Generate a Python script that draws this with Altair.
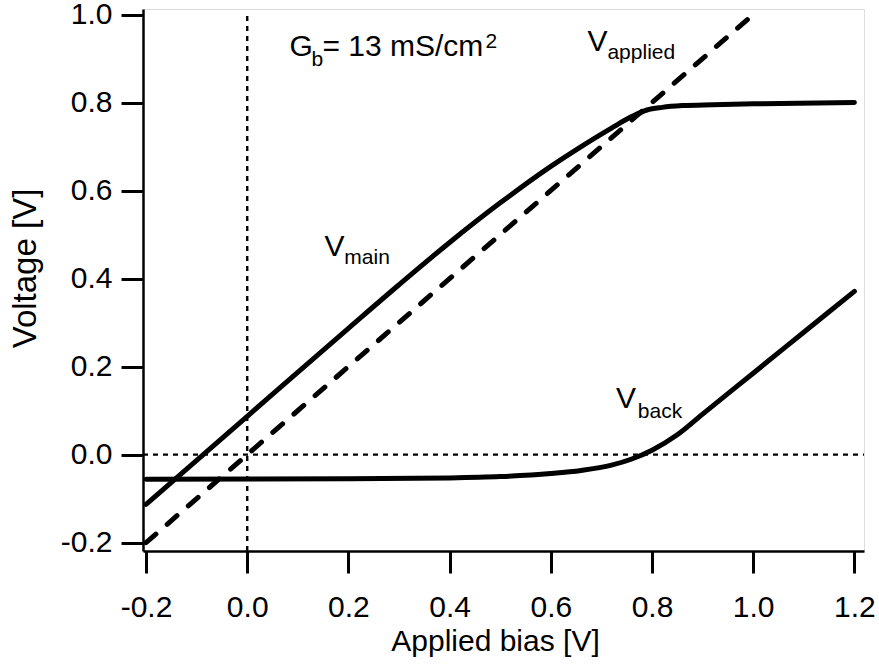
import altair as alt
import pandas as pd

# ---- data ----
main_x = [-0.2, 0.0, 0.2, 0.3, 0.4, 0.5, 0.6, 0.66, 0.72, 0.76, 0.79, 0.82, 0.86, 0.92, 1.0, 1.2]
main_y = [-0.113, 0.087, 0.287, 0.386, 0.482, 0.572, 0.655, 0.700, 0.742, 0.768, 0.783, 0.789, 0.793, 0.795, 0.797, 0.800]

back_x = [-0.2, 0.2, 0.4, 0.5, 0.6, 0.66, 0.72, 0.76, 0.80, 0.85, 0.90, 1.0, 1.1, 1.2]
back_y = [-0.056, -0.055, -0.053, -0.050, -0.043, -0.036, -0.024, -0.010, 0.010, 0.045, 0.092, 0.185, 0.278, 0.371]

applied_x = [-0.2, 0.995]
applied_y = [-0.2, 0.995]

x_ticks = [-0.2, 0.0, 0.2, 0.4, 0.6, 0.8, 1.0, 1.2]
y_ticks = [-0.2, 0.0, 0.2, 0.4, 0.6, 0.8, 1.0]
x_domain = [-0.206, 1.219]
y_domain = [-0.219, 1.0125]

big_text = ["V", "V", "V", "G", "= 13 mS/cm"]
big_x = [0.6723, 0.1526, 0.729, 0.0834, 0.1486]
big_y = [0.916, 0.4507, 0.106, 0.905, 0.905]

sub_text = ["applied", "main", "back", "b"]
sub_x = [0.7119, 0.192, 0.772, 0.1269]
sub_y = [0.900, 0.432, 0.0834, 0.882]

sup_text = ["2"]
sup_x = [0.4708]
sup_y = [0.925]

FONT = "Liberation Sans"

df_main = pd.DataFrame({"x": main_x, "y": main_y})
df_back = pd.DataFrame({"x": back_x, "y": back_y})
df_app = pd.DataFrame({"x": applied_x, "y": applied_y})
df_big = pd.DataFrame({"x": big_x, "y": big_y, "t": big_text})
df_sub = pd.DataFrame({"x": sub_x, "y": sub_y, "t": sub_text})
df_sup = pd.DataFrame({"x": sup_x, "y": sup_y, "t": sup_text})
df_v = pd.DataFrame({"x": [0.0], "y1": [y_domain[0]], "y2": [1.0]})
df_h = pd.DataFrame({"y": [0.0], "x1": [x_domain[0]], "x2": [x_domain[1]]})

label_expr = "replace(format(datum.value, '.1f'), '\u2212', '-')"

xscale = alt.Scale(domain=x_domain, nice=False, zero=False)
yscale = alt.Scale(domain=y_domain, nice=False, zero=False)

xaxis = alt.Axis(values=x_ticks, labelExpr=label_expr, title="Applied bias [V]",
                 grid=False, tickSize=22, tickWidth=3, tickColor="black",
                 domainColor="black", domainWidth=2.5, labelFontSize=30,
                 labelPadding=19, labelColor="black", labelFont=FONT,
                 titleFont=FONT, titleFontSize=30, titleFontWeight="normal",
                 titleColor="black", titleBaseline="alphabetic", titleY=99,
                 titleX=352, titleAlign="center")
yaxis = alt.Axis(values=y_ticks, labelExpr=label_expr, title="Voltage [V]",
                 grid=False, tickSize=22, tickWidth=3, tickColor="black",
                 domainColor="black", domainWidth=2.5, labelFontSize=30,
                 labelPadding=9, labelColor="black", labelFont=FONT,
                 titleFont=FONT, titleFontSize=33, titleFontWeight="normal",
                 titleColor="black", titleBaseline="alphabetic", titleX=-108,
                 titleY=259, titleAlign="center", titleAngle=270)

vrule = alt.Chart(df_v).mark_rule(color="black", strokeWidth=2.4, strokeDash=[5, 5]).encode(
    x=alt.X("x:Q", scale=xscale, axis=xaxis),
    y=alt.Y("y1:Q", scale=yscale, axis=yaxis), y2="y2:Q")
hrule = alt.Chart(df_h).mark_rule(color="black", strokeWidth=2.4, strokeDash=[5, 5]).encode(
    y=alt.Y("y:Q", scale=yscale), x=alt.X("x1:Q", scale=xscale), x2="x2:Q")

applied = alt.Chart(df_app).mark_line(color="black", strokeWidth=5, strokeDash=[13, 15],
                                      strokeCap="round").encode(
    x=alt.X("x:Q", scale=xscale), y=alt.Y("y:Q", scale=yscale))
main = alt.Chart(df_main).mark_line(color="black", strokeWidth=5, strokeCap="round",
                                    interpolate="monotone").encode(
    x=alt.X("x:Q", scale=xscale), y=alt.Y("y:Q", scale=yscale))
back = alt.Chart(df_back).mark_line(color="black", strokeWidth=5, strokeCap="round",
                                    interpolate="monotone").encode(
    x=alt.X("x:Q", scale=xscale), y=alt.Y("y:Q", scale=yscale))

big = alt.Chart(df_big).mark_text(align="left", baseline="alphabetic", fontSize=30,
                                  font=FONT, color="black").encode(
    x=alt.X("x:Q", scale=xscale), y=alt.Y("y:Q", scale=yscale), text="t:N")
sub = alt.Chart(df_sub).mark_text(align="left", baseline="alphabetic", fontSize=21,
                                  font=FONT, color="black").encode(
    x=alt.X("x:Q", scale=xscale), y=alt.Y("y:Q", scale=yscale), text="t:N")
sup = alt.Chart(df_sup).mark_text(align="left", baseline="alphabetic", fontSize=21,
                                  font=FONT, color="black").encode(
    x=alt.X("x:Q", scale=xscale), y=alt.Y("y:Q", scale=yscale), text="t:N")

chart = alt.layer(vrule, hrule, applied, main, back, big, sub, sup).properties(
    width=721, height=542,
    autosize=alt.AutoSizeParams(type="none"),
    padding={"left": 143, "top": 9, "right": 15, "bottom": 118},
    background="white",
).configure_view(stroke="black", strokeWidth=2.5).configure(font=FONT)

chart.save("out.html", embed_options={"renderer": "svg", "actions": False})
